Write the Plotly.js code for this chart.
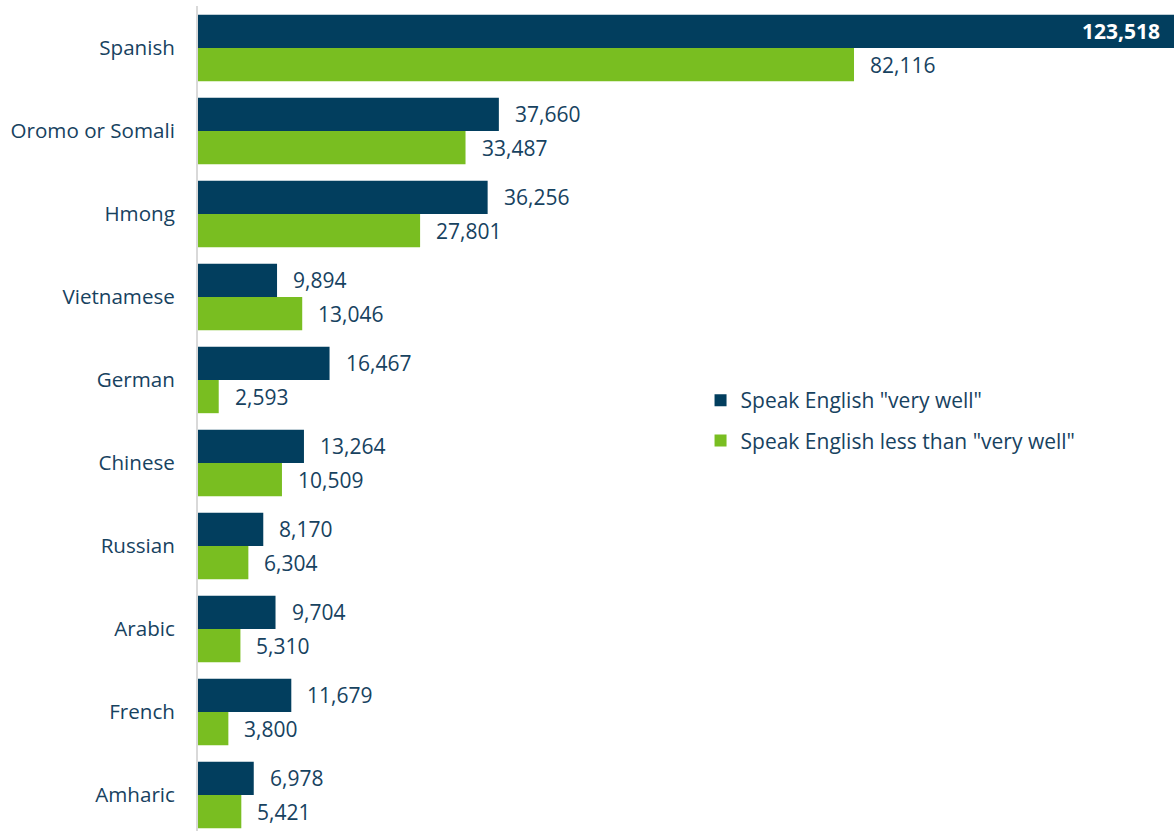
<!DOCTYPE html>
<html>
<head>
<meta charset="utf-8">
<script src="https://cdn.plot.ly/plotly-3.0.1.min.js"></script>
<style>html,body{margin:0;padding:0;background:#fff;}#chart{width:1174px;height:831px;}</style>
</head>
<body>
<div id="chart"></div>
<script>
var categories = ["Spanish", "Oromo or Somali", "Hmong", "Vietnamese", "German", "Chinese", "Russian", "Arabic", "French", "Amharic"];
var veryWell = [123518, 37660, 36256, 9894, 16467, 13264, 8170, 9704, 11679, 6978];
var lessThan = [82116, 33487, 27801, 13046, 2593, 10509, 6304, 5310, 3800, 5421];
var seriesNames = ['Speak English "very well"', 'Speak English less than "very well"'];

var NAVY = '#023E5E', GREEN = '#79BE21', TEXT = '#17425F';
var FONT = 'Open Sans, sans-serif';
var XMAX = 122170;

var idx = categories.map(function (_, i) { return i; });
var fmt = function (v) { return v.toLocaleString('en-US'); };

var traces = [
  { type: 'bar', orientation: 'h', name: seriesNames[0], legendgroup: 'a', x: veryWell, y: idx, marker: { color: NAVY }, hoverinfo: 'x+name' },
  { type: 'bar', orientation: 'h', name: seriesNames[1], legendgroup: 'b', x: lessThan, y: idx, marker: { color: GREEN }, hoverinfo: 'x+name' }
];

var annotations = [];
[veryWell, lessThan].forEach(function (arr, s) {
  arr.forEach(function (v, i) {
    var y = i + (s === 0 ? -0.2 : 0.2);
    if (v > XMAX * 0.95) {
      annotations.push({ xref: 'paper', yref: 'y', x: 1, y: y, xanchor: 'right', yanchor: 'middle', xshift: -12,
        text: '<b>' + fmt(v) + '</b>', showarrow: false, font: { family: FONT, size: 21, color: '#ffffff' } });
    } else {
      annotations.push({ xref: 'x', yref: 'y', x: v, y: y, xanchor: 'left', yanchor: 'middle', xshift: 14,
        text: fmt(v), showarrow: false, font: { family: FONT, size: 21, color: TEXT } });
    }
  });
});

var layout = {
  width: 1174, height: 831,
  margin: { l: 198, r: 0, t: 6, b: 0, pad: 0 },
  paper_bgcolor: '#fff', plot_bgcolor: '#fff',
  barmode: 'group', bargap: 0.2, bargroupgap: 0,
  font: { family: FONT, size: 21, color: TEXT },
  xaxis: { range: [0, XMAX], showgrid: false, zeroline: false, showticklabels: false, showline: false, ticks: '' },
  yaxis: { range: [9.434, -0.506], tickvals: idx, ticktext: categories, showgrid: false, zeroline: false,
    showline: true, linecolor: '#D9D9D9', linewidth: 2, ticks: '', ticklabelstandoff: 17,
    tickfont: { family: FONT, size: 20.6, color: TEXT } },
  showlegend: true,
  legend: { x: 0.5149, y: 0.4976, xanchor: 'left', yanchor: 'middle', traceorder: 'grouped', tracegroupgap: 10,
    font: { family: FONT, size: 21, color: TEXT }, bgcolor: 'rgba(0,0,0,0)', itemclick: false },
  annotations: annotations
};

Plotly.newPlot('chart', traces, layout, { displayModeBar: false, staticPlot: true });
</script>
</body>
</html>
